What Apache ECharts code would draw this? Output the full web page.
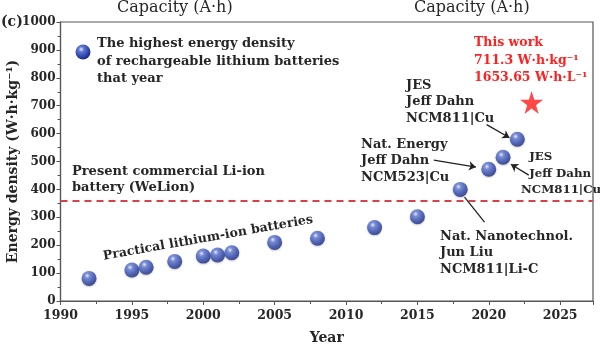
<!DOCTYPE html>
<html><head><meta charset="utf-8">
<script src="https://cdn.jsdelivr.net/npm/echarts@6/dist/echarts.min.js"></script>
<style>html,body{margin:0;padding:0;background:#fff}#c{width:600px;height:347px}</style>
</head><body><div id="c"></div>
<script>
const years = [1992, 1995, 1996, 1998, 2000, 2001, 2002, 2005, 2008, 2012, 2015, 2018, 2020, 2021, 2022];
const energy = [81, 111, 121, 142, 161, 165, 173, 210, 225, 263, 302, 400, 472, 515, 580];
const thisWorkYear = [2023];
const thisWorkEnergy = [711.3];
const commercialLevel = 360;
const xTicks = [1990, 1995, 2000, 2005, 2010, 2015, 2020, 2025];
const yTicks = [0, 100, 200, 300, 400, 500, 600, 700, 800, 900, 1000];

const F = 'DejaVu Serif';
const INK = '#262626';
const sphere = {
  type: 'radial', x: 0.38, y: 0.32, r: 0.7,
  colorStops: [{offset: 0, color: '#eef0ff'}, {offset: 0.25, color: '#6179d6'}, {offset: 0.7, color: '#2e45aa'}, {offset: 1, color: '#1b2a7a'}]
};
const chart = echarts.init(document.getElementById('c'));
const txt = (x, y, lines, extra) => Object.assign({
  type: 'text', left: x, top: y,
  style: {text: lines, font: 'bold 13px "' + F + '"', fill: INK, lineHeight: 16.5}
}, extra || {});
const arrowLine = (a, b, arrow) => [{coord: a, symbol: 'none'}, {coord: b, symbol: arrow ? 'arrow' : 'none', symbolSize: 7}];

chart.setOption({
  animation: false,
  grid: {left: 60.5, right: 7, top: 22, bottom: 46, containLabel: false, outerBoundsMode: 'none'},
  xAxis: {
    type: 'value', min: xTicks[0], max: 2027.3, interval: 5,
    axisLine: {lineStyle: {color: '#555', width: 1.2}},
    axisTick: {show: true, length: 4, lineStyle: {color: '#555'}},
    minorTick: {show: true, splitNumber: 2, length: 3, lineStyle: {color: '#555'}},
    axisLabel: {showMaxLabel: false, formatter: v => String(v), color: INK, fontFamily: F, fontWeight: 'bold', fontSize: 12.5, margin: 8},
    splitLine: {show: false},
    name: 'Year', nameLocation: 'middle', nameGap: 30, nameMoveOverlap: false,
    nameTextStyle: {color: INK, fontFamily: F, fontWeight: 'bold', fontSize: 14}
  },
  yAxis: {
    type: 'value', min: yTicks[0], max: yTicks[yTicks.length - 1], interval: 100,
    axisLine: {show: true, lineStyle: {color: '#555', width: 1.2}},
    axisTick: {show: true, length: 4, lineStyle: {color: '#555'}},
    minorTick: {show: true, splitNumber: 2, length: 3, lineStyle: {color: '#555'}},
    axisLabel: {formatter: v => String(v), color: INK, fontFamily: F, fontWeight: 'bold', fontSize: 12, margin: 5},
    splitLine: {show: false},
    name: 'Energy density (W·h·kg⁻¹)', nameLocation: 'middle', nameGap: 40, nameMoveOverlap: false,
    nameTextStyle: {color: INK, fontFamily: F, fontWeight: 'bold', fontSize: 14}
  },
  series: [
    {
      type: 'scatter', symbol: 'circle', symbolSize: 15,
      itemStyle: {color: sphere, shadowBlur: 2, shadowColor: 'rgba(0,0,0,0.25)', shadowOffsetY: 1},
      data: years.map((y, i) => [y, energy[i]]),
      z: 5,
      markLine: {
        silent: true, symbol: 'none', label: {show: false},
        lineStyle: {color: '#d9424a', type: [7, 5], width: 1.8},
        data: [{yAxis: commercialLevel}]
      }
    },
    {
      type: 'scatter', symbol: 'path://M0,-1L0.2245,-0.309L0.9511,-0.309L0.3633,0.118L0.5878,0.809L0,0.382L-0.5878,0.809L-0.3633,0.118L-0.9511,-0.309L-0.2245,-0.309Z',
      symbolSize: 23, itemStyle: {color: '#ff1a1a'},
      data: thisWorkYear.map((y, i) => [y, thisWorkEnergy[i]]),
      z: 6
    },
    {
      type: 'line', data: [], silent: true,
      markLine: {
        silent: true, label: {show: false}, symbol: ['none', 'arrow'], symbolSize: 7,
        lineStyle: {color: '#222', type: 'solid', width: 1.3},
        data: [
          arrowLine([2019.85, 632], [2021.45, 585], true),
          arrowLine([2016.15, 505], [2019.1, 480], true),
          arrowLine([2022.8, 451], [2021.55, 490], true),
          arrowLine([2018.3, 372], [2019.7, 283], false)
        ]
      }
    }
  ],
  graphic: [
    {type: 'rect', shape: {x: 60.5, y: 22, width: 532.5, height: 279}, style: {fill: 'none', stroke: '#555', lineWidth: 1.2}, silent: true},
    {type: 'text', left: 1, top: 15, style: {text: '(c)', font: 'bold 14px "' + F + '"', fill: INK}},
    {type: 'text', left: 117, top: 0, style: {text: 'Capacity (A·h)', font: '16px "' + F + '"', fill: INK}},
    {type: 'text', left: 414, top: 0, style: {text: 'Capacity (A·h)', font: '16px "' + F + '"', fill: INK}},
    {type: 'circle', shape: {cx: 83, cy: 52, r: 7.5}, style: {fill: sphere}},
    txt(97, 35, '', {style: {text: 'The highest energy density\nof rechargeable lithium batteries\nthat year', font: 'bold 13px "' + F + '"', fill: INK, lineHeight: 17.5}}),
    txt(72, 163, 'Present commercial Li-ion\nbattery (WeLion)'),
    {type: 'text', x: 208, y: 238, rotation: 10 * Math.PI / 180,
      style: {text: 'Practical lithium-ion batteries', font: 'bold 12.5px "' + F + '"', fill: INK, align: 'center', verticalAlign: 'middle'}},
    txt(406, 77, 'JES\nJeff Dahn\nNCM811|Cu'),
    txt(361, 136, 'Nat. Energy\nJeff Dahn\nNCM523|Cu'),
    txt(521, 149, '', {style: {text: '  JES\n  Jeff Dahn\nNCM811|Cu', font: 'bold 11.8px "' + F + '"', fill: INK, lineHeight: 16.5}}),
    txt(440, 228, 'Nat. Nanotechnol.\nJun Liu\nNCM811|Li-C'),
    {type: 'text', left: 474, top: 34, style: {text: 'This work\n711.3 W·h·kg⁻¹\n1653.65 W·h·L⁻¹', font: 'bold 12.5px "' + F + '"', fill: '#ff2020', lineHeight: 17.5}}
  ]
});
</script></body></html>
